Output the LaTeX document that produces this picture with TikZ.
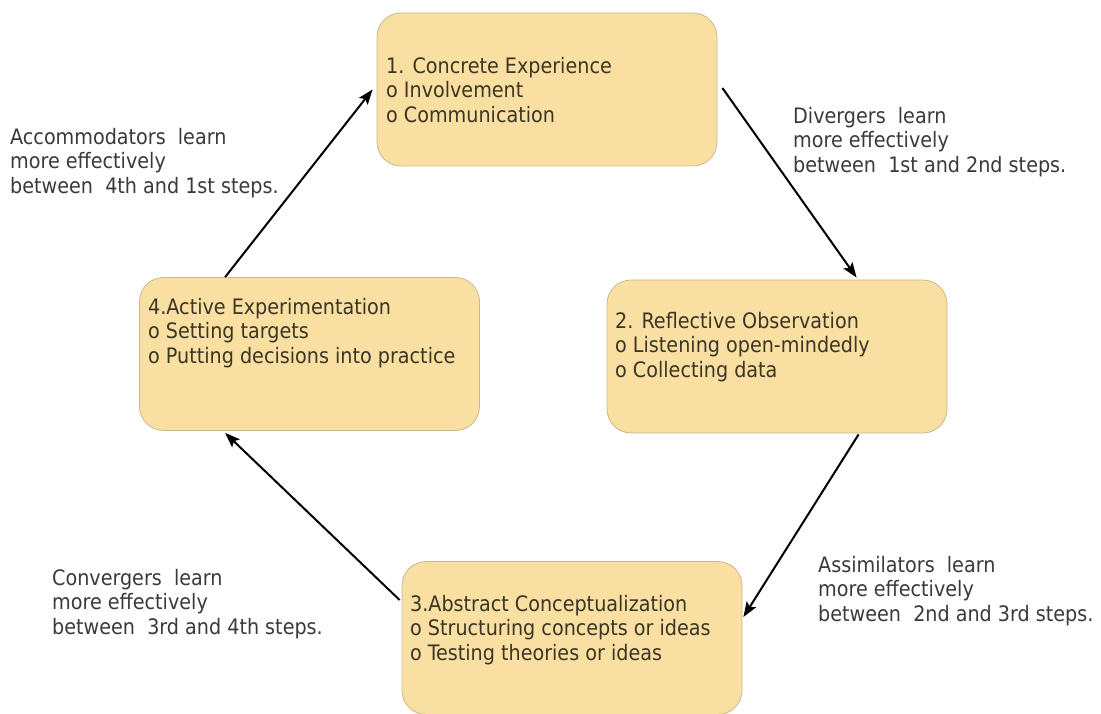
\documentclass[tikz,border=0pt]{standalone}
\usepackage{fontspec}
\setmainfont{DejaVu Sans Condensed}
\usetikzlibrary{arrows.meta}
\definecolor{boxfill}{HTML}{F9DFA2}
\definecolor{boxline}{HTML}{C9B98C}
\definecolor{boxtext}{HTML}{3B3524}
\definecolor{labtext}{HTML}{3A3A3A}
\tikzset{
  stepbox/.style={draw=boxline, line width=0.8pt, fill=boxfill, rounded corners=24pt, minimum width=340pt, minimum height=153pt, inner sep=0pt},
  boxtxt/.style={anchor=north west, inner sep=0pt, align=left, text=boxtext, font=\fontsize{21.3}{24.5}\selectfont},
  labtxt/.style={anchor=north west, inner sep=0pt, align=left, text=labtext, font=\fontsize{21.3}{24.5}\selectfont},
  flow/.style={-{Stealth[length=15pt,width=11pt,inset=3pt]}, line width=2pt, black}
}
\begin{document}
\begin{tikzpicture}[x=1pt,y=-1pt]
\useasboundingbox (0,0) rectangle (1101,714);
\fill[white] (0,0) rectangle (1101,714);
% boxes
\node[stepbox] (b1) at (547,89.5) {};
\node[stepbox] (b2) at (777,356.5) {};
\node[stepbox] (b3) at (572,638) {};
\node[stepbox] (b4) at (309.5,354) {};
% box texts (top = first baseline - 17.15)
\node[boxtxt] (t1) at (386,55.8) {\strut 1. Concrete Experience\\o Involvement\\o Communication};
\node[boxtxt] (t2) at (615,310.8) {\strut 2. Reflective Observation\\o Listening open-mindedly\\o Collecting data};
\node[boxtxt] (t3) at (410,593.8) {\strut 3.Abstract Conceptualization\\o Structuring concepts or ideas\\o Testing theories or ideas};
\node[boxtxt] (t4) at (148,297) {\strut 4.Active Experimentation\\o Setting targets\\o Putting decisions into practice};
% labels
\node[labtxt] (l41) at (10,127) {\strut Accommodators\ \ learn\\more effectively\\between\ \ 4th and 1st steps.};
\node[labtxt] (l12) at (793,106) {\strut Divergers\ \ learn\\more effectively\\between\ \ 1st and 2nd steps.};
\node[labtxt] (l23) at (818,555) {\strut Assimilators\ \ learn\\more effectively\\between\ \ 2nd and 3rd steps.};
\node[labtxt] (l34) at (52,568) {\strut Convergers\ \ learn\\more effectively\\between\ \ 3rd and 4th steps.};
% arrows
\draw[flow] ([xshift=86pt]b4.north west) -- ([xshift=-4pt]b1.west);
\draw[flow] ([xshift=5pt,yshift=1.5pt]b1.east) -- ([xshift=250pt,yshift=2pt]b2.north west);
\draw[flow] ([xshift=252pt,yshift=-1pt]b2.south west) -- ([xshift=1pt,yshift=21pt]b3.east);
\draw[flow] ([xshift=-2pt,yshift=38pt]b3.west) -- ([xshift=86pt,yshift=-2pt]b4.south west);
\end{tikzpicture}
\end{document}
